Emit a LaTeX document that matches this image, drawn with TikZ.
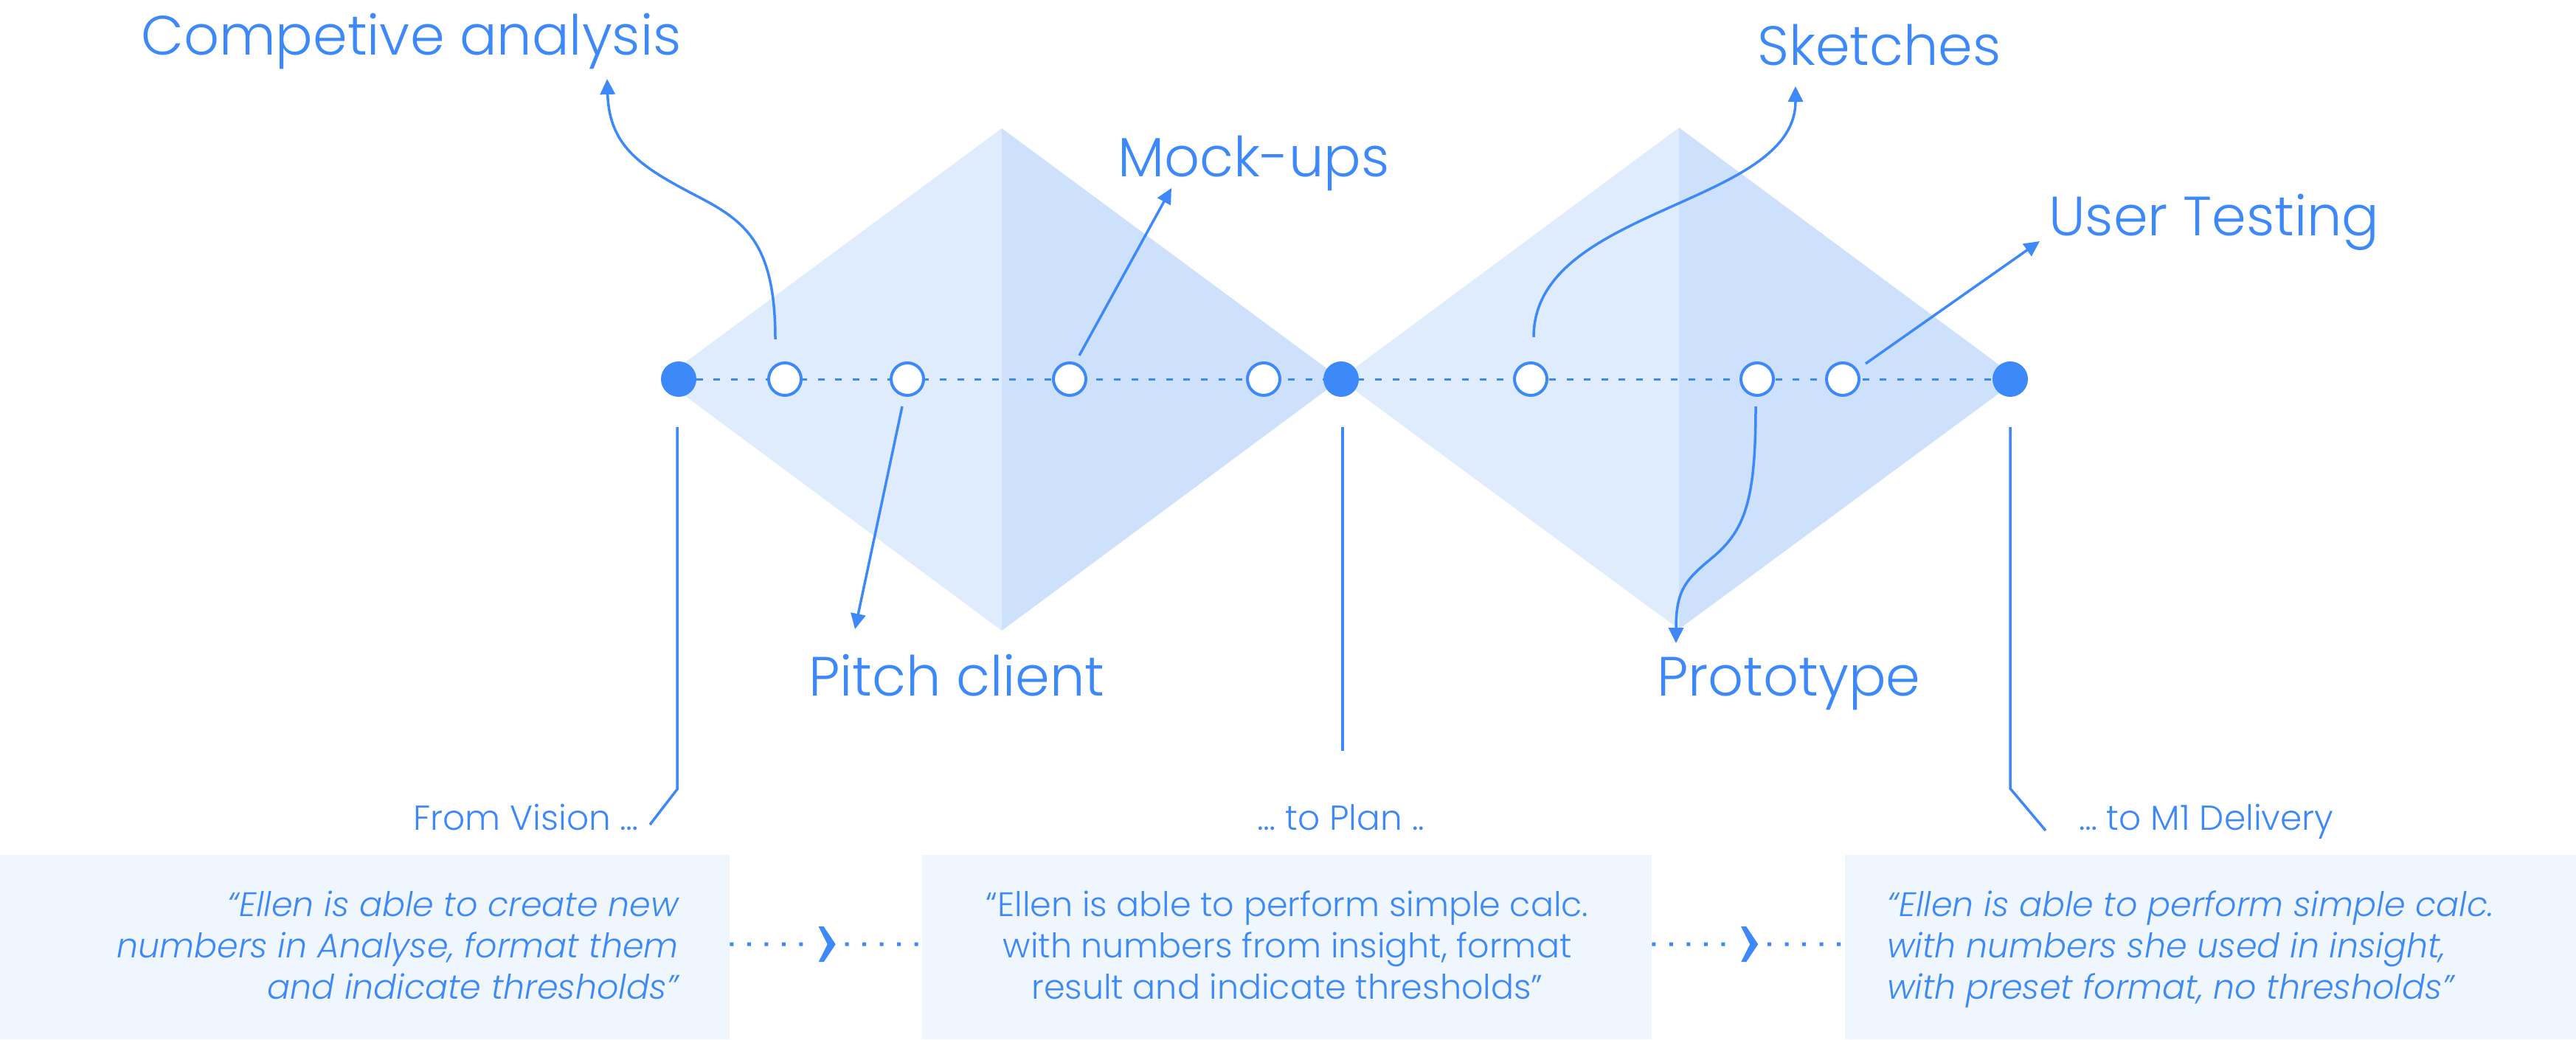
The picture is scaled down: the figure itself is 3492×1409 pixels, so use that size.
\documentclass[tikz,border=0pt]{standalone}
\usepackage{fontspec}
\setmainfont{Poppins}[UprightFont={* Light},ItalicFont={* Light Italic}]
\usetikzlibrary{arrows.meta,calc}
\definecolor{cblue}{RGB}{61,137,250}
\definecolor{dleft}{RGB}{223,236,253}
\definecolor{dright}{RGB}{206,225,252}
\definecolor{boxbg}{RGB}{239,246,254}
\begin{document}
\begin{tikzpicture}[x=1pt,y=-1pt,
  lbl/.style={text=cblue, inner sep=0pt, font=\fontsize{75}{90}\selectfont},
  small/.style={text=cblue, inner sep=0pt, font=\fontsize{47}{56}\selectfont},
  quote/.style={text=cblue, inner sep=0pt, font=\fontsize{46}{56}\selectfont},
  milestone/.style={circle, fill=cblue, minimum size=48pt, inner sep=0pt},
  activity/.style={circle, draw=cblue, line width=4pt, fill=white, minimum size=44pt, inner sep=0pt},
  mainline/.style={cblue, line width=3pt, dash pattern=on 9pt off 14.6pt},
  arr/.style={cblue, line width=3.5pt, -{Triangle[length=21pt,width=20pt]}},
  guide/.style={cblue, line width=3.5pt},
  boxstyle/.style={fill=boxbg, draw=none, inner sep=0pt, minimum height=250pt},
  dotline/.style={cblue, line width=5pt, dash pattern=on 5pt off 18.5pt},
  chevron/.style={fill=cblue, draw=none}
]
\path[use as bounding box] (0,0) rectangle (3492,1409);

% diamonds
\fill[dleft] (898,514) -- (1358,174) -- (1358,855) -- cycle;
\fill[dright] (1358,174) -- (1818,514) -- (1358,855) -- cycle;
\fill[dleft] (1816,514) -- (2276,173) -- (2276,853) -- cycle;
\fill[dright] (2276,173) -- (2736,514) -- (2276,853) -- cycle;

% positions on the timeline
\coordinate (p1) at (920,514);
\coordinate (p2) at (1064,514);
\coordinate (p3) at (1230,514);
\coordinate (p4) at (1450,514);
\coordinate (p5) at (1713,514);
\coordinate (p6) at (1818,514);
\coordinate (p7) at (2075,514);
\coordinate (p8) at (2382,514);
\coordinate (p9) at (2498,514);
\coordinate (p10) at (2725,514);
\draw[mainline] (p1) -- (p10);

\node[milestone] (d1) at (p1) {};
\node[activity] (c1) at (p2) {};
\node[activity] (c2) at (p3) {};
\node[activity] (c3) at (p4) {};
\node[activity] (c4) at (p5) {};
\node[milestone] (d2) at (p6) {};
\node[activity] (c5) at (p7) {};
\node[activity] (c6) at (p8) {};
\node[activity] (c7) at (p9) {};
\node[milestone] (d3) at (p10) {};

% labels
\node[lbl, anchor=base west] (lcomp) at (191,74) {Competive analysis};
\node[lbl, anchor=base west] (lmock) at (1515,239) {Mock-ups};
\node[lbl, anchor=base west] (lsketch) at (2382,88) {Sketches};
\node[lbl, anchor=base west] (luser) at (2777,319) {User Testing};
\node[lbl, anchor=base west] (lpitch) at (1096,943) {Pitch client};
\node[lbl, anchor=base west] (lproto) at (2246,943) {Prototype};

% arrow ends
\coordinate (s1) at ($(c1)+(-13,-54)$);
\coordinate (t1) at (823,107);
\coordinate (s2) at ($(c3)+(13,-32)$);
\coordinate (t2) at (1588,255);
\coordinate (s3) at ($(c2)+(-7,37)$);
\coordinate (t3) at (1159,853);
\coordinate (s4) at ($(c5)+(4,-57)$);
\coordinate (t4) at (2434,117);
\coordinate (s5) at ($(c6)+(-2,37)$);
\coordinate (t5) at (2272,872);
\coordinate (s6) at ($(c7)+(31,-21)$);
\coordinate (t6) at (2765,327);

\draw[arr] (s1) .. controls (1051,330) and (1010,300) .. (947,267)
               .. controls (870,227) and (826,200) .. (t1);
\draw[arr] (s2) -- (t2);
\draw[arr] (s3) -- (t3);
\draw[arr] (s4) .. controls (2079,280) and (2434,280) .. (t4);
\draw[arr] (s5) .. controls (2380,680) and (2365,720) .. (2320,757)
               .. controls (2285,786) and (2272,800) .. (t5);
\draw[arr] (s6) -- (t6);

% guides down to the milestones text
\draw[guide] ($(d1)+(-2,65)$) -- ++(0,491) -- ++(-37,48);
\draw[guide] ($(d2)+(2,65)$) -- ++(0,439);
\draw[guide] ($(d3)+(0,65)$) -- ++(0,490) -- ++(48,57);

\node[small, anchor=base east] (fv) at (866,1125) {From Vision …};
\node[small, anchor=base] (tp) at (1818,1125) {… to Plan ..};
\node[small, anchor=base west] (tm) at (2818,1125) {… to M1 Delivery};

% boxes
\node[boxstyle, anchor=north west, minimum width=989pt] (b1) at (0,1159) {};
\node[boxstyle, anchor=north west, minimum width=989pt] (b2) at (1250,1159) {};
\node[boxstyle, anchor=north west, minimum width=991pt] (b3) at (2501,1159) {};

\node[quote, font=\fontsize{46}{56}\selectfont\itshape, align=right, anchor=east] (q1) at (920,1287)
  {\strut“Ellen is able to create new\\\strut numbers in Analyse, format them\\\strut and indicate thresholds”};
\node[quote, align=center, anchor=center] (q2) at (1745,1287)
  {\strut“Ellen is able to perform simple calc.\\\strut with numbers from insight, format\\\strut result and indicate thresholds”};
\node[quote, font=\fontsize{46}{56}\selectfont\itshape, align=left, anchor=west] (q3) at (2558,1287)
  {\strut“Ellen is able to perform simple calc.\\\strut with numbers she used in insight,\\\strut with preset format, no thresholds”};

% connectors between boxes
\coordinate (m1) at ($([yshift=4pt]b1.east)!0.5!([yshift=4pt]b2.west)$);
\coordinate (m2) at ($([yshift=4pt]b2.east)!0.5!([yshift=4pt]b3.west)$);
\draw[dotline] ([yshift=4pt]b1.east) -- ($(m1)+(-16,0)$);
\draw[dotline] ($(m1)+(26,0)$) -- ([yshift=4pt]b2.west);
\fill[chevron] ($(m1)+(-10,-24)$) -- ($(m1)+(-3,-24)$) -- ($(m1)+(13,0)$)
   -- ($(m1)+(-3,24)$) -- ($(m1)+(-10,24)$) -- ($(m1)+(2,0)$) -- cycle;
\draw[dotline] ([yshift=4pt]b2.east) -- ($(m2)+(-16,0)$);
\draw[dotline] ($(m2)+(26,0)$) -- ([yshift=4pt]b3.west);
\fill[chevron] ($(m2)+(-10,-24)$) -- ($(m2)+(-3,-24)$) -- ($(m2)+(13,0)$)
   -- ($(m2)+(-3,24)$) -- ($(m2)+(-10,24)$) -- ($(m2)+(2,0)$) -- cycle;
\end{tikzpicture}
\end{document}
